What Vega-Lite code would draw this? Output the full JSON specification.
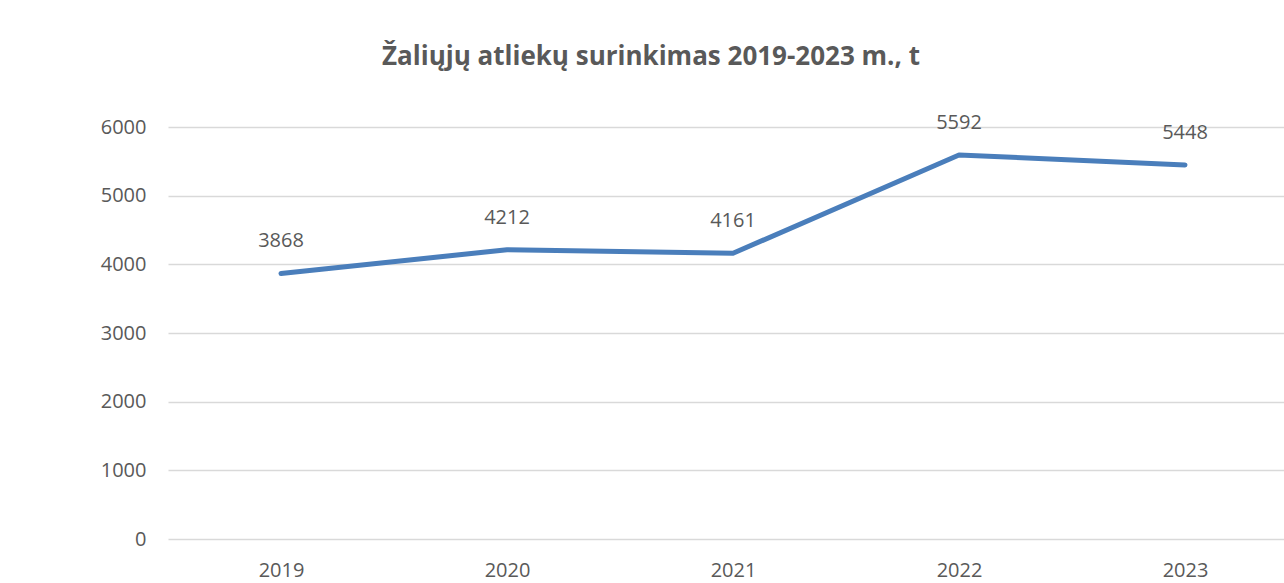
{
  "$schema": "https://vega.github.io/schema/vega-lite/v6.json",
  "autosize": "none",
  "width": 1130,
  "height": 412,
  "padding": {"left": 168, "top": 127, "right": 0, "bottom": 44},
  "background": "white",
  "title": {
    "text": "Žaliųjų atliekų surinkimas 2019-2023 m., t",
    "font": "Open Sans",
    "fontSize": 26,
    "fontWeight": "bold",
    "color": "#595959",
    "anchor": "middle",
    "dx": -82,
    "offset": 43
  },
  "config": {
    "view": {"stroke": null},
    "font": "Open Sans"
  },
  "data": {
    "values": [
      {"year": "2019", "value": 3868},
      {"year": "2020", "value": 4212},
      {"year": "2021", "value": 4161},
      {"year": "2022", "value": 5592},
      {"year": "2023", "value": 5448}
    ]
  },
  "encoding": {
    "x": {
      "field": "year",
      "type": "ordinal",
      "scale": {"type": "point", "padding": 0.5},
      "axis": {
        "title": null,
        "labelAngle": 0,
        "domain": false,
        "ticks": false,
        "grid": false,
        "labelFont": "Open Sans",
        "labelFontSize": 20,
        "labelColor": "#595959",
        "labelPadding": 21
      }
    },
    "y": {
      "field": "value",
      "type": "quantitative",
      "scale": {"domain": [0, 6000], "nice": false},
      "axis": {
        "title": null,
        "values": [0, 1000, 2000, 3000, 4000, 5000, 6000],
        "format": "d",
        "domain": false,
        "ticks": false,
        "grid": true,
        "gridColor": "#d9d9d9",
        "gridWidth": 1.5,
        "labelFont": "Open Sans",
        "labelFontSize": 20,
        "labelColor": "#595959",
        "labelPadding": 22
      }
    }
  },
  "layer": [
    {
      "mark": {"type": "line", "color": "#4a7ebb", "strokeWidth": 5, "strokeCap": "round", "strokeJoin": "round"}
    },
    {
      "mark": {"type": "text", "dy": -32, "fontSize": 20, "color": "#595959", "font": "Open Sans"},
      "encoding": {"text": {"field": "value", "type": "quantitative", "format": "d"}}
    }
  ]
}
